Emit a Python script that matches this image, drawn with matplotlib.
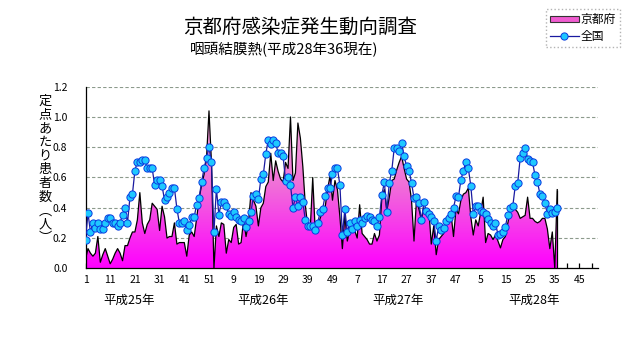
import numpy as np
import matplotlib
matplotlib.use("Agg")
import matplotlib.pyplot as plt
import matplotlib.transforms as mtransforms
from matplotlib.colors import LinearSegmentedColormap
from matplotlib.patches import Patch
from matplotlib.lines import Line2D

plt.rcParams['font.family'] = ['Noto Sans CJK JP', 'DejaVu Sans']

# ---- text ----
title = "京都府感染症発生動向調査"
subtitle = "咽頭結膜熱(平成28年36現在)"
ylabel_text = "定点あたり患者数︵人︶"
series_names = ["京都府", "全国"]
year_labels = ["平成25年", "平成26年", "平成27年", "平成28年"]
week_tick_labels = ["1", "11", "21", "31", "41", "51",
                    "9", "19", "29", "39", "49",
                    "7", "17", "27", "37", "47",
                    "5", "15", "25", "35", "45"]

# ---- weekly values per sentinel site (2013 wk1 .. 2016 wk36) ----
kyoto_2013 = [0.06, 0.13, 0.10, 0.08, 0.10, 0.21, 0.04, 0.09, 0.13, 0.08,
              0.03, 0.06, 0.10, 0.13, 0.10, 0.05, 0.15, 0.15, 0.20, 0.24,
              0.24, 0.32, 0.50, 0.30, 0.23, 0.29, 0.32, 0.43, 0.41, 0.39,
              0.25, 0.41, 0.34, 0.20, 0.21, 0.21, 0.30, 0.16, 0.17, 0.17,
              0.17, 0.08, 0.22, 0.24, 0.21, 0.33, 0.46, 0.55, 0.62, 0.73,
              1.04, 0.70]
kyoto_2014 = [0.00, 0.28, 0.21, 0.30, 0.29, 0.10, 0.19, 0.17, 0.27, 0.29,
              0.16, 0.17, 0.32, 0.21, 0.30, 0.50, 0.45, 0.41, 0.28, 0.40,
              0.43, 0.54, 0.57, 0.76, 0.58, 0.71, 0.64, 0.59, 0.57, 0.70,
              0.66, 1.00, 0.58, 0.63, 0.96, 0.86, 0.67, 0.42, 0.27, 0.26,
              0.60, 0.25, 0.28, 0.33, 0.38, 0.40, 0.52, 0.61, 0.45, 0.58,
              0.52, 0.34]
kyoto_2015 = [0.13, 0.35, 0.18, 0.25, 0.26, 0.25, 0.20, 0.42, 0.23, 0.21,
              0.19, 0.16, 0.16, 0.23, 0.18, 0.22, 0.47, 0.52, 0.38, 0.47,
              0.58, 0.59, 0.65, 0.70, 0.74, 0.66, 0.59, 0.57, 0.45, 0.18,
              0.45, 0.39, 0.32, 0.40, 0.36, 0.39, 0.16, 0.28, 0.09, 0.19,
              0.21, 0.23, 0.32, 0.30, 0.36, 0.21, 0.39, 0.36, 0.45, 0.49,
              0.50, 0.53]
kyoto_2016 = [0.34, 0.22, 0.32, 0.28, 0.37, 0.47, 0.17, 0.23, 0.22, 0.19,
              0.22, 0.18, 0.135, 0.19, 0.21, 0.30, 0.38, 0.41, 0.39, 0.37,
              0.33, 0.34, 0.35, 0.47, 0.33, 0.33, 0.31, 0.30, 0.31, 0.33,
              0.33, 0.26, 0.13, 0.24, 0.00, 0.52]

national_2013 = [0.185, 0.365, 0.24, 0.30, 0.265, 0.30, 0.26, 0.26, 0.30, 0.33,
                 0.33, 0.30, 0.30, 0.28, 0.30, 0.355, 0.40, 0.30, 0.47, 0.49,
                 0.645, 0.705, 0.705, 0.715, 0.715, 0.66, 0.665, 0.66, 0.55, 0.585,
                 0.585, 0.545, 0.45, 0.47, 0.495, 0.53, 0.53, 0.395, 0.30, 0.30,
                 0.315, 0.255, 0.285, 0.34, 0.34, 0.42, 0.465, 0.57, 0.66, 0.73,
                 0.80, 0.70]
national_2014 = [0.24, 0.525, 0.355, 0.435, 0.435, 0.41, 0.36, 0.345, 0.37, 0.34,
                 0.32, 0.31, 0.33, 0.27, 0.31, 0.37, 0.48, 0.49, 0.46, 0.59,
                 0.62, 0.755, 0.85, 0.82, 0.85, 0.83, 0.76, 0.76, 0.74, 0.58,
                 0.60, 0.55, 0.40, 0.47, 0.41, 0.47, 0.435, 0.32, 0.28, 0.28,
                 0.28, 0.255, 0.30, 0.37, 0.39, 0.48, 0.53, 0.53, 0.62, 0.665,
                 0.66, 0.55]
national_2015 = [0.22, 0.39, 0.24, 0.30, 0.26, 0.31, 0.28, 0.32, 0.30, 0.33,
                 0.345, 0.34, 0.32, 0.31, 0.28, 0.34, 0.485, 0.57, 0.375, 0.565,
                 0.645, 0.795, 0.795, 0.775, 0.83, 0.74, 0.675, 0.645, 0.565, 0.465,
                 0.47, 0.43, 0.32, 0.435, 0.38, 0.36, 0.34, 0.31, 0.18, 0.28,
                 0.255, 0.265, 0.315, 0.33, 0.36, 0.40, 0.475, 0.47, 0.585, 0.645,
                 0.70, 0.66]
national_2016 = [0.545, 0.36, 0.41, 0.41, 0.38, 0.37, 0.36, 0.325, 0.30, 0.28,
                 0.30, 0.22, 0.225, 0.24, 0.275, 0.355, 0.40, 0.41, 0.545, 0.565,
                 0.73, 0.76, 0.795, 0.725, 0.71, 0.70, 0.615, 0.57, 0.49, 0.475,
                 0.43, 0.36, 0.39, 0.365, 0.37, 0.40]

kyoto = np.array(kyoto_2013 + kyoto_2014 + kyoto_2015 + kyoto_2016)
national = np.array(national_2013 + national_2014 + national_2015 + national_2016)
weeks_per_year = 52
n_years = 4
x = np.arange(len(kyoto))
x_end = weeks_per_year * n_years - 0.5

# ---- figure ----
fig = plt.figure(figsize=(6.31, 3.47), dpi=100)
ax = fig.add_axes([0.1355, 0.2268, 0.9477 - 0.1355, 0.7502 - 0.2268])
ax.set_xlim(0, x_end)
ax.set_ylim(0, 1.2)

# Kyoto: area with vertical pink gradient and black outline
area = ax.fill_between(x, kyoto, 0, facecolor='none', edgecolor='none', zorder=2)
pink = LinearSegmentedColormap.from_list('pinkfade', ['#FF00FF', '#F070D8', '#F7B4DC'])
grad = np.linspace(0, 1, 256).reshape(-1, 1)
im = ax.imshow(grad, extent=[0, x_end, 0, 1.1], origin='lower', aspect='auto',
               cmap=pink, zorder=2, interpolation='bilinear')
im.set_clip_path(area.get_paths()[0], transform=ax.transData)
ax.plot(x, kyoto, color='black', lw=0.9, zorder=3)
ax.vlines(x[-1], 0, kyoto[-1], color='black', lw=0.9, zorder=3)

# National: line with circle markers
ax.plot(x, national, color='#1A1AA0', lw=0.9, marker='o', ms=5.2,
        mfc='#1EC8FF', mec='#0A3CE0', mew=0.7, zorder=4)

# grid and axes styling
ax.set_axisbelow(True)
ax.yaxis.grid(True, linestyle=(0, (3, 2)), color='#8C9A8C', lw=0.8)
for side in ('top', 'right'):
    ax.spines[side].set_visible(False)
for side in ('left', 'bottom'):
    ax.spines[side].set_color('black')
    ax.spines[side].set_linewidth(0.9)

yt = np.arange(0, 1.21, 0.2)
ax.set_yticks(yt)
ax.set_yticklabels([f"{v:.1f}" for v in yt], fontsize=7.5)
ax.tick_params(axis='y', length=0, pad=13)

major = np.arange(0, 201, 10)
minor = np.arange(5, 206, 10)
ax.set_xticks(major)
ax.set_xticks(minor, minor=True)
ax.set_xticklabels(week_tick_labels, fontsize=7.5)
ax.tick_params(axis='x', which='both', direction='in', length=3.5, width=0.9, pad=5)

# year captions below the week axis
trans = mtransforms.blended_transform_factory(ax.transData, ax.transAxes)
year_label_pos = [17.5, 72, 126.5, 181.5]
for pos, lab in zip(year_label_pos, year_labels):
    ax.text(pos, -0.175, lab, transform=trans, ha='center', va='center', fontsize=9)

# vertical y-axis caption, one character per line
fig.text(45 / 631, 1 - 170 / 347, "\n".join(ylabel_text), ha='center', va='center',
         fontsize=9.5, linespacing=1.08)

# titles
fig.text(0.475, 1 - 27 / 347, title, ha='center', va='center', fontsize=14)
fig.text(190 / 631, 1 - 50 / 347, subtitle, ha='left', va='center', fontsize=10.5)

# legend
handles = [Patch(facecolor='#F05CD0', edgecolor='#333333', linewidth=0.8),
           Line2D([0], [0], color='#1A1AA0', lw=0.9, marker='o', ms=5.2,
                  mfc='#1EC8FF', mec='#0A3CE0', mew=0.7)]
leg = fig.legend(handles, series_names, loc='upper right',
                 bbox_to_anchor=(0.983, 0.974), fontsize=8.5, frameon=True,
                 fancybox=False, handlelength=2.4, handleheight=0.5,
                 borderpad=0.35, labelspacing=0.3, handletextpad=0.2,
                 borderaxespad=0)
leg.get_frame().set_edgecolor('#A0A0A0')
leg.get_frame().set_linestyle(':')
leg.get_frame().set_linewidth(1.0)

fig.savefig("out.png", dpi=100)
